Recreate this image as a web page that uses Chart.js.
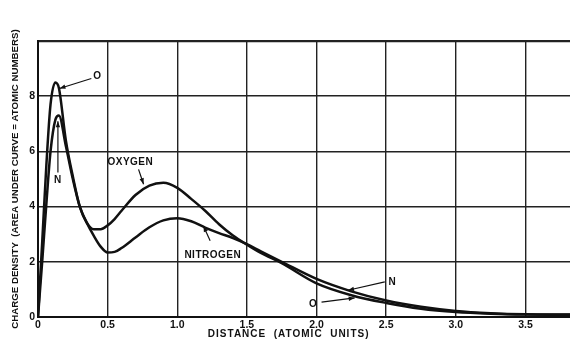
<!DOCTYPE html>
<html>
<head>
<meta charset="utf-8">
<script src="https://cdn.jsdelivr.net/npm/chart.js@4"></script>
<style>
  html, body { margin: 0; padding: 0; background: #fff; }
  #grafico { display: block; }
</style>
</head>
<body>
<canvas id="grafico" width="570" height="343"></canvas>
<script>
// Distance in atomic units, shared by both curves
const distance = [0, 0.03, 0.06, 0.09, 0.125, 0.15, 0.2, 0.25, 0.3, 0.35, 0.4, 0.45, 0.5, 0.55, 0.6, 0.7, 0.8, 0.9, 1.0,
  1.1, 1.2, 1.3, 1.4, 1.5, 1.6, 1.75, 2.0, 2.25, 2.5, 2.75, 3.0, 3.25, 3.5, 3.82];
const oxygen = [0, 2.7, 5.5, 7.7, 8.5, 8.3, 6.4, 5.1, 4.0, 3.42, 3.18, 3.18, 3.32, 3.55, 3.85, 4.42, 4.76, 4.86, 4.68,
  4.28, 3.85, 3.36, 2.95, 2.62, 2.32, 1.95, 1.22, 0.79, 0.51, 0.3, 0.18, 0.12, 0.09, 0.08];
const nitrogen = [0, 2.0, 4.1, 6.0, 7.15, 7.3, 6.2, 5.0, 4.0, 3.42, 2.95, 2.55, 2.34, 2.36, 2.5, 2.88, 3.25, 3.5, 3.58,
  3.47, 3.24, 3.04, 2.86, 2.64, 2.38, 2.0, 1.38, 0.93, 0.6, 0.37, 0.22, 0.14, 0.1, 0.09];

const xTickLabels = ['0', '0.5', '1.0', '1.5', '2.0', '2.5', '3.0', '3.5'];
const yTickLabels = ['0', '2', '4', '6', '8', ''];
const xTitle = 'DISTANCE  (ATOMIC  UNITS)';
const yTitle = 'CHARGE DENSITY  (AREA UNDER CURVE = ATOMIC NUMBERS)';

// Labels drawn on the plot, with their arrows (data coordinates)
const noteText = ['O', 'N', 'OXYGEN', 'NITROGEN', 'N', 'O'];
const noteAt = [[0.426, 8.72], [0.142, 4.97], [0.663, 5.59], [1.255, 2.24], [2.545, 1.27], [1.976, 0.48]];
const arrowFrom = [[0.383, 8.64], [0.143, 5.24], [0.722, 5.35], [1.236, 2.76], [2.49, 1.27], [2.036, 0.54]];
const arrowTo = [[0.154, 8.28], [0.143, 7.09], [0.758, 4.81], [1.188, 3.30], [2.226, 0.97], [2.274, 0.69]];

const FONT = '"Liberation Sans", Arial, sans-serif';
const INK = '#111';

const notas = {
  id: 'notas',
  afterDatasetsDraw(chart) {
    const { ctx, scales: { x, y } } = chart;
    ctx.save();
    ctx.fillStyle = INK;
    ctx.strokeStyle = INK;
    ctx.lineWidth = 1.2;
    ctx.font = 'bold 10px ' + FONT;
    ctx.textAlign = 'center';
    ctx.textBaseline = 'middle';
    ctx.letterSpacing = '0.5px';
    noteText.forEach((t, i) => {
      ctx.fillText(t, x.getPixelForValue(noteAt[i][0]), y.getPixelForValue(noteAt[i][1]));
      const x0 = x.getPixelForValue(arrowFrom[i][0]), y0 = y.getPixelForValue(arrowFrom[i][1]);
      const x1 = x.getPixelForValue(arrowTo[i][0]), y1 = y.getPixelForValue(arrowTo[i][1]);
      ctx.beginPath();
      ctx.moveTo(x0, y0);
      ctx.lineTo(x1, y1);
      ctx.stroke();
      const a = Math.atan2(y1 - y0, x1 - x0);
      ctx.beginPath();
      ctx.moveTo(x1, y1);
      ctx.lineTo(x1 - 6 * Math.cos(a) + 2.2 * Math.sin(a), y1 - 6 * Math.sin(a) - 2.2 * Math.cos(a));
      ctx.lineTo(x1 - 6 * Math.cos(a) - 2.2 * Math.sin(a), y1 - 6 * Math.sin(a) + 2.2 * Math.cos(a));
      ctx.closePath();
      ctx.fill();
    });
    // x axis title, spaced out like the original lettering
    ctx.letterSpacing = '1px';
    ctx.fillText(xTitle, x.getPixelForValue(1.8), chart.height - 8.5);
    ctx.restore();
  }
};

const serie = (vals) => distance.map((d, i) => ({ x: d, y: vals[i] }));

new Chart(document.getElementById('grafico'), {
  type: 'line',
  data: {
    datasets: [
      { label: 'Oxygen', data: serie(oxygen), borderColor: INK, borderWidth: 2.5, pointRadius: 0, cubicInterpolationMode: 'monotone' },
      { label: 'Nitrogen', data: serie(nitrogen), borderColor: INK, borderWidth: 2.5, pointRadius: 0, cubicInterpolationMode: 'monotone' }
    ]
  },
  options: {
    responsive: false,
    animation: false,
    devicePixelRatio: 1,
    layout: { padding: { top: 41, right: 0, bottom: 0, left: 0 } },
    plugins: { legend: { display: false }, tooltip: { enabled: false } },
    scales: {
      x: {
        type: 'linear',
        min: 0,
        max: 3.82,
        afterFit: (s) => { s.height = 26; },
        afterBuildTicks: (s) => { s.ticks = s.ticks.filter(t => Math.abs(t.value * 2 - Math.round(t.value * 2)) < 1e-6); },
        ticks: {
          stepSize: 0.5,
          padding: 2,
          color: INK,
          font: { family: FONT, size: 10.5, weight: 'bold' },
          maxRotation: 0,
          callback: (v) => xTickLabels[Math.round(v * 2)] ?? ''
        },
        grid: { color: '#222', lineWidth: 1.4, drawTicks: false },
        border: { color: INK, width: 2 }
      },
      y: {
        min: 0,
        max: 10,
        afterFit: (s) => { s.width = 38; },
        ticks: {
          stepSize: 2,
          padding: 3,
          color: INK,
          font: { family: FONT, size: 10.5, weight: 'bold' },
          callback: (v) => yTickLabels[Math.round(v / 2)] ?? ''
        },
        grid: {
          color: '#222',
          lineWidth: (c) => (c.tick && c.tick.value === 10 ? 2.2 : 1.4),
          drawTicks: false
        },
        border: { color: INK, width: 2 },
        title: {
          display: true,
          text: yTitle,
          color: INK,
          font: { family: FONT, size: 9.7, weight: 'bold' },
          padding: { top: 10, bottom: 0 }
        }
      }
    }
  },
  plugins: [notas]
});
</script>
</body>
</html>
